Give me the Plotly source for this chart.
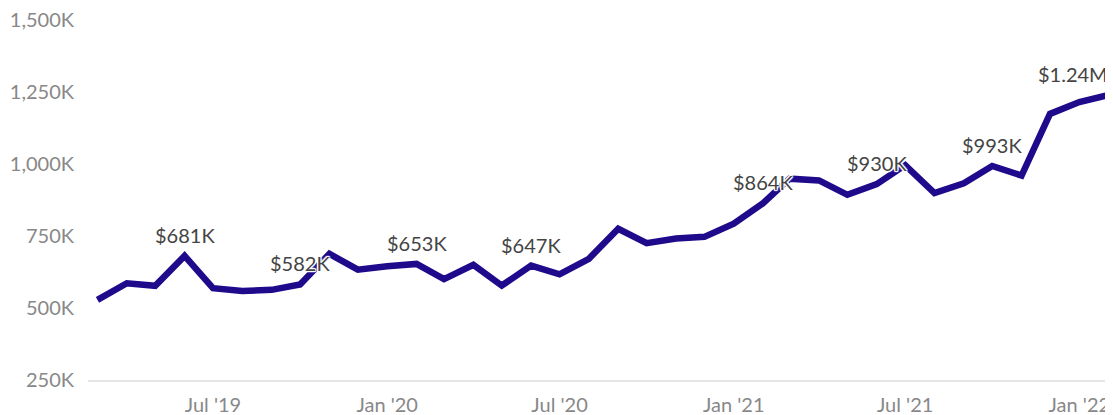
import plotly.graph_objects as go

months = [
    "2019-03-01", "2019-04-01", "2019-05-01", "2019-06-01", "2019-07-01", "2019-08-01",
    "2019-09-01", "2019-10-01", "2019-11-01", "2019-12-01", "2020-01-01", "2020-02-01",
    "2020-03-01", "2020-04-01", "2020-05-01", "2020-06-01", "2020-07-01", "2020-08-01",
    "2020-09-01", "2020-10-01", "2020-11-01", "2020-12-01", "2021-01-01", "2021-02-01",
    "2021-03-01", "2021-04-01", "2021-05-01", "2021-06-01", "2021-07-01", "2021-08-01",
    "2021-09-01", "2021-10-01", "2021-11-01", "2021-12-01", "2022-01-01", "2022-02-01",
]
# values in thousands of dollars
values_k = [
    528, 586, 577, 681, 569, 559, 563, 582, 688, 633, 645, 653,
    600, 650, 578, 647, 617, 671, 775, 725, 741, 747, 793, 864,
    949, 943, 893, 930, 996, 899, 933, 993, 960, 1174, 1215, 1240,
]
label_months = ["2019-06-01", "2019-10-01", "2020-02-01", "2020-06-01",
                "2021-02-01", "2021-06-01", "2021-10-01", "2022-02-01"]
label_texts = ["$681K", "$582K", "$653K", "$647K", "$864K", "$930K", "$993K", "$1.24M"]
label_xshift = [0, 0, 0, 0, 0, 0, 0, -36]

y_ticks = [250, 500, 750, 1000, 1250, 1500]
y_ticktext = ["250K", "500K", "750K", "1,000K", "1,250K", "1,500K"]

LINE = "#1f0a8c"
FONT = "Lato"

fig = go.Figure()
fig.add_trace(go.Scatter(
    x=months, y=values_k, mode="lines",
    line=dict(color=LINE, width=6.5),
    hoverinfo="skip", showlegend=False,
))

halo = ("1px 1px 1px white, -1px -1px 1px white, 1px -1px 1px white, "
        "-1px 1px 1px white, 0 1px 1px white, 0 -1px 1px white, 1px 0 1px white, -1px 0 1px white")
for m, t, dx in zip(label_months, label_texts, label_xshift):
    yv = values_k[months.index(m)]
    fig.add_annotation(
        x=m, y=yv, text=t, showarrow=False,
        xanchor="center", yanchor="middle", yshift=21, xshift=dx,
        font=dict(family=FONT, size=20, color="#444444", shadow=halo),
    )

fig.update_layout(
    width=1113, height=415,
    margin=dict(l=80, r=0, t=12, b=43),
    paper_bgcolor="white", plot_bgcolor="white",
    font=dict(family=FONT),
    showlegend=False,
)
fig.update_xaxes(
    type="date",
    range=["2019-02-19", "2022-02-14"],
    dtick="M6", tick0="2019-01-01", tickformat="%b '%y",
    showgrid=False, zeroline=False,
    showline=True, linecolor="#e6e6e6", linewidth=2,
    ticks="", ticklabelstandoff=6, ticklabeloverflow="allow",
    tickfont=dict(family=FONT, size=20, color="#888888"),
    automargin=False,
)
fig.update_yaxes(
    range=[250, 1500],
    tickvals=y_ticks, ticktext=y_ticktext,
    showgrid=False, zeroline=False, showline=False,
    ticks="", ticklabelstandoff=13, ticklabeloverflow="allow",
    tickfont=dict(family=FONT, size=20, color="#888888"),
    automargin=False,
)

fig.write_html("out.html")
